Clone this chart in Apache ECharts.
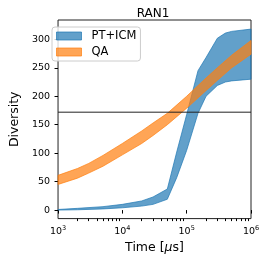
<!DOCTYPE html>
<html><head><meta charset="utf-8">
<script src="https://cdn.jsdelivr.net/npm/echarts@6/dist/echarts.min.js"></script>
<style>html,body{margin:0;padding:0;background:#fff}#c{width:266px;height:259px}</style>
</head><body><div id="c"></div>
<script>
// ---- data ----
const ptTime  = [1e3, 2e3, 5e3, 1e4, 2e4, 3e4, 5e4, 7e4, 1e5, 1.5e5, 2e5, 3e5, 4e5, 5e5, 1e6];
const ptLower = [0, 0.5, 2, 4, 7, 10, 19, 57, 105, 170, 200, 219, 225, 227, 230];
const ptUpper = [1, 3, 6, 10, 16, 23, 37, 102, 168, 245, 268, 302, 311, 314, 318];
const qaTime  = [1e3, 2e3, 3e3, 5e3, 1e4, 2e4, 3e4, 5e4, 1e5, 2e5, 3e5, 5e5, 1e6];
const qaLower = [45, 56, 65, 77, 97, 117, 131, 150, 179, 210, 228, 250, 274];
const qaUpper = [61, 73, 82, 96, 117, 139, 153, 170, 200, 232, 250, 272, 298];
const thresholdValue = [172];
const yTicks = [0, 50, 100, 150, 200, 250, 300];
const xRange = [1e3, 1e6];
const xMinorTicks = [2e3,3e3,4e3,5e3,6e3,7e3,8e3,9e3,2e4,3e4,4e4,5e4,6e4,7e4,8e4,9e4,2e5,3e5,4e5,5e5,6e5,7e5,8e5,9e5];
const seriesNames = ['PT+ICM', 'QA'];

// ---- style ----
const FONT = 'DejaVu Sans';
const blueFill = 'rgba(31,119,180,0.7)';
const orangeFill = 'rgba(255,127,14,0.7)';

function bandRender(xs, lo, hi, fill) {
  return function (params, api) {
    if (params.dataIndex !== 0) return null;
    const pts = [];
    for (let i = 0; i < xs.length; i++) pts.push(api.coord([xs[i], hi[i]]));
    for (let i = xs.length - 1; i >= 0; i--) pts.push(api.coord([xs[i], lo[i]]));
    return { type: 'polygon', shape: { points: pts }, style: { fill: fill, stroke: fill, lineWidth: 1 } };
  };
}

const chart = echarts.init(document.getElementById('c'), null, { renderer: 'canvas' });
chart.setOption({
  animation: false,
  backgroundColor: '#fff',
  title: {
    text: 'RAN1', left: 148, top: 3, textAlign: 'center',
    textStyle: { fontFamily: FONT, fontSize: 12, fontWeight: 'normal', color: '#000' }
  },
  grid: { left: 45, right: 15, top: 20, bottom: 40, show: true, borderColor: '#222', borderWidth: 1, backgroundColor: 'transparent' },
  legend: {
    orient: 'vertical', left: 52, top: 27,
    selectedMode: false,
    icon: 'rect', itemWidth: 25, itemHeight: 8, itemGap: 4,
    padding: [3, 4, 3, 4],
    backgroundColor: 'rgba(255,255,255,0.8)', borderColor: '#ccc', borderWidth: 1, borderRadius: 3,
    data: [
      { name: seriesNames[0], itemStyle: { color: blueFill, borderColor: blueFill, borderWidth: 1 } },
      { name: seriesNames[1], itemStyle: { color: orangeFill, borderColor: orangeFill, borderWidth: 1 } }
    ],
    formatter: function (n) { return '{t|' + n + '}'; },
    textStyle: { fontFamily: FONT, fontSize: 11.5, color: '#000', rich: { t: { fontFamily: FONT, fontSize: 11.5, color: '#000', padding: [0, 0, 0, 5] } } }
  },
  xAxis: [{
    type: 'log', logBase: 10, min: xRange[0], max: xRange[1],
    name: 'Time [{i|μ}s]', nameLocation: 'middle', nameGap: 16,
    nameTextStyle: { fontFamily: FONT, fontSize: 12.5, color: '#000', rich: { i: { fontFamily: FONT, fontSize: 12.5, fontStyle: 'italic', color: '#000' } } },
    axisLine: { show: false },
    axisTick: { show: true, length: 3.5, lineStyle: { color: '#000' } },
    axisLabel: {
      margin: 6, color: '#000', fontFamily: FONT, fontSize: 9.5,
      formatter: function (v) { return '10{s|' + Math.round(Math.log10(v)) + '}'; },
      rich: { s: { fontFamily: FONT, fontSize: 6.5, color: '#000', padding: [0, 0, 6, 0] } }
    },
    splitLine: { show: false }
  }, {
    // minor ticks, placed in log10 space
    type: 'value', min: Math.log10(xRange[0]), max: Math.log10(xRange[1]), position: 'bottom',
    axisLine: { show: false },
    axisTick: { show: true, length: 2.5, lineStyle: { color: '#000', width: 1 }, customValues: xMinorTicks.map(Math.log10) },
    axisLabel: { show: false },
    splitLine: { show: false }
  }],
  yAxis: {
    type: 'value', min: -15, max: 334,
    name: 'Diversity', nameLocation: 'middle', nameGap: 26,
    nameTextStyle: { fontFamily: FONT, fontSize: 12.5, color: '#000' },
    axisLine: { show: false },
    axisTick: { show: true, length: 3.5, lineStyle: { color: '#000' }, customValues: yTicks },
    axisLabel: { customValues: yTicks, margin: 8, color: '#000', fontFamily: FONT, fontSize: 9.5 },
    splitLine: { show: false }
  },
  series: [
    {
      type: 'custom', name: seriesNames[0], xAxisIndex: 0, yAxisIndex: 0,
      itemStyle: { color: blueFill },
      data: ptTime.map((x, i) => [x, ptLower[i], ptUpper[i]]),
      encode: { x: 0, y: [1, 2] },
      renderItem: bandRender(ptTime, ptLower, ptUpper, blueFill), silent: true
    },
    {
      type: 'custom', name: seriesNames[1], xAxisIndex: 0, yAxisIndex: 0,
      itemStyle: { color: orangeFill },
      data: qaTime.map((x, i) => [x, qaLower[i], qaUpper[i]]),
      encode: { x: 0, y: [1, 2] },
      renderItem: bandRender(qaTime, qaLower, qaUpper, orangeFill), silent: true
    },
    {
      type: 'line', name: 'threshold', xAxisIndex: 0, yAxisIndex: 0,
      data: [[xRange[0], thresholdValue[0]], [xRange[1], thresholdValue[0]]],
      symbol: 'none', silent: true, z: 5,
      lineStyle: { color: '#222', width: 1 }
    }
  ]
});
</script></body></html>
